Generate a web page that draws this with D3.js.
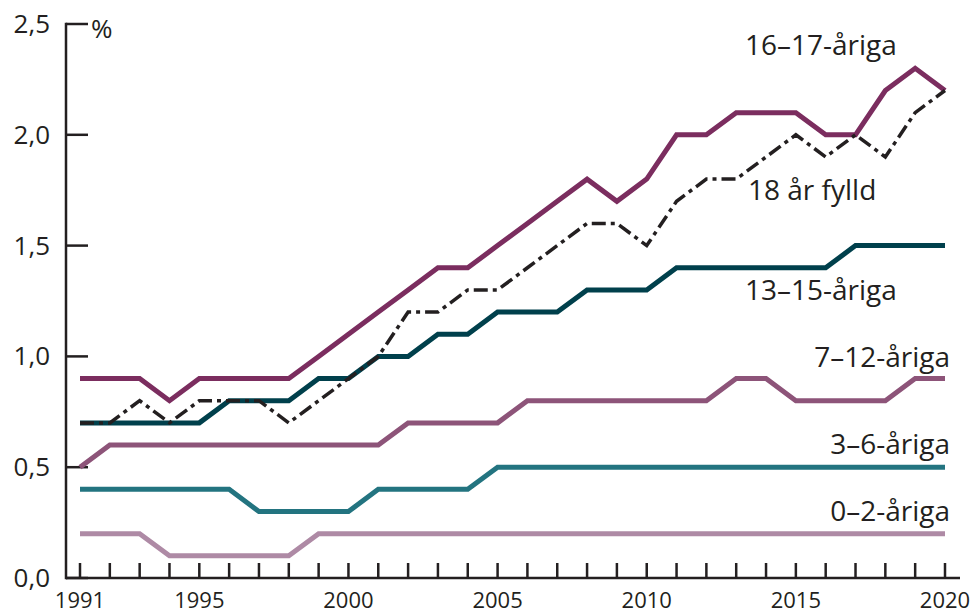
<!DOCTYPE html>
<html>
<head>
<meta charset="utf-8">
<script src="https://cdn.jsdelivr.net/npm/d3@7"></script>
<style>
  body { margin: 0; background: #fff; }
  text { font-family: "Open Sans", "Noto Sans", sans-serif; fill: #231f20; }
</style>
</head>
<body>
<div id="chart"></div>
<script>
// Data
// ================================
var years = d3.range(1991, 2021);
var yearLabels = [1991, 1995, 2000, 2005, 2010, 2015, 2020];
var yTicks = [0, 0.5, 1.0, 1.5, 2.0, 2.5];

var age16to17 = [0.9, 0.9, 0.9, 0.8, 0.9, 0.9, 0.9, 0.9, 1.0, 1.1,
  1.2, 1.3, 1.4, 1.4, 1.5, 1.6, 1.7, 1.8, 1.7, 1.8,
  2.0, 2.0, 2.1, 2.1, 2.1, 2.0, 2.0, 2.2, 2.3, 2.2];
var age18plus = [0.7, 0.7, 0.8, 0.7, 0.8, 0.8, 0.8, 0.7, 0.8, 0.9,
  1.0, 1.2, 1.2, 1.3, 1.3, 1.4, 1.5, 1.6, 1.6, 1.5,
  1.7, 1.8, 1.8, 1.9, 2.0, 1.9, 2.0, 1.9, 2.1, 2.2];
var age13to15 = [0.7, 0.7, 0.7, 0.7, 0.7, 0.8, 0.8, 0.8, 0.9, 0.9,
  1.0, 1.0, 1.1, 1.1, 1.2, 1.2, 1.2, 1.3, 1.3, 1.3,
  1.4, 1.4, 1.4, 1.4, 1.4, 1.4, 1.5, 1.5, 1.5, 1.5];
var age7to12 = [0.5, 0.6, 0.6, 0.6, 0.6, 0.6, 0.6, 0.6, 0.6, 0.6,
  0.6, 0.7, 0.7, 0.7, 0.7, 0.8, 0.8, 0.8, 0.8, 0.8,
  0.8, 0.8, 0.9, 0.9, 0.8, 0.8, 0.8, 0.8, 0.9, 0.9];
var age3to6 = [0.4, 0.4, 0.4, 0.4, 0.4, 0.4, 0.3, 0.3, 0.3, 0.3,
  0.4, 0.4, 0.4, 0.4, 0.5, 0.5, 0.5, 0.5, 0.5, 0.5,
  0.5, 0.5, 0.5, 0.5, 0.5, 0.5, 0.5, 0.5, 0.5, 0.5];
var age0to2 = [0.2, 0.2, 0.2, 0.1, 0.1, 0.1, 0.1, 0.1, 0.2, 0.2,
  0.2, 0.2, 0.2, 0.2, 0.2, 0.2, 0.2, 0.2, 0.2, 0.2,
  0.2, 0.2, 0.2, 0.2, 0.2, 0.2, 0.2, 0.2, 0.2, 0.2];

// series drawn bottom-up so the top lines sit on top
var series = [
  { name: "0–2-åriga", values: age0to2, color: "#ae8aa5", lx: 950, ly: 521, anchor: "end" },
  { name: "3–6-åriga", values: age3to6, color: "#237480", lx: 950, ly: 454, anchor: "end" },
  { name: "7–12-åriga", values: age7to12, color: "#8d5479", lx: 950, ly: 367, anchor: "end" },
  { name: "13–15-åriga", values: age13to15, color: "#00404c", lx: 745, ly: 300, anchor: "start" },
  { name: "16–17-åriga", values: age16to17, color: "#7b2d5f", lx: 745, ly: 55, anchor: "start" },
  { name: "18 år fylld", values: age18plus, color: "#231f20", lx: 748, ly: 200, anchor: "start", dash: true }
];

// Set up chart
// ================================
var svgWidth = 976;
var svgHeight = 613;

var svg = d3.select("#chart")
  .append("svg")
  .attr("width", svgWidth)
  .attr("height", svgHeight);

var x = d3.scaleLinear().domain([1991, 2020]).range([80, 945]);
var y = d3.scaleLinear().domain([0, 2.5]).range([578, 24]);
var axisX = 66;

// y axis line and ticks
svg.append("line")
  .attr("x1", axisX).attr("x2", axisX)
  .attr("y1", y(2.5) - 1.25).attr("y2", y(0) + 1.25)
  .attr("stroke", "#231f20").attr("stroke-width", 2.5);

svg.selectAll("line.ytick")
  .data(yTicks)
  .enter()
  .append("line")
  .classed("ytick", true)
  .attr("x1", axisX).attr("x2", 88)
  .attr("y1", d => y(d)).attr("y2", d => y(d))
  .attr("stroke", "#231f20").attr("stroke-width", 2.5);

svg.selectAll("text.ylab")
  .data(yTicks)
  .enter()
  .append("text")
  .classed("ylab", true)
  .attr("x", 50)
  .attr("y", d => y(d) + 9)
  .attr("text-anchor", "end")
  .style("font-size", "26px")
  .text(d => d3.format(".1f")(d).replace(".", ","));

svg.append("text")
  .attr("x", 91)
  .attr("y", 38)
  .style("font-size", "26px")
  .text("%");

// x axis line and ticks
svg.append("line")
  .attr("x1", axisX).attr("x2", 960)
  .attr("y1", y(0)).attr("y2", y(0))
  .attr("stroke", "#231f20").attr("stroke-width", 2.5);

svg.selectAll("line.xtick")
  .data(years)
  .enter()
  .append("line")
  .classed("xtick", true)
  .attr("x1", d => x(d)).attr("x2", d => x(d))
  .attr("y1", y(0)).attr("y2", y(0) - 15)
  .attr("stroke", "#231f20").attr("stroke-width", 2.5);

svg.selectAll("text.xlab")
  .data(yearLabels)
  .enter()
  .append("text")
  .classed("xlab", true)
  .attr("x", d => x(d))
  .attr("y", 608)
  .attr("text-anchor", "middle")
  .style("font-size", "22px")
  .text(d => d);

// lines
var line = d3.line()
  .x((d, i) => x(years[i]))
  .y(d => y(d));

svg.selectAll("path.series")
  .data(series)
  .enter()
  .append("path")
  .classed("series", true)
  .attr("d", d => line(d.values))
  .attr("fill", "none")
  .attr("stroke", d => d.color)
  .attr("stroke-width", d => d.dash ? 3.5 : 5)
  .attr("stroke-linejoin", "miter")
  .attr("stroke-dasharray", d => d.dash ? "14,5,4,5" : null);

// series labels
svg.selectAll("text.serieslab")
  .data(series)
  .enter()
  .append("text")
  .classed("serieslab", true)
  .attr("x", d => d.lx)
  .attr("y", d => d.ly)
  .attr("text-anchor", d => d.anchor)
  .style("font-size", "28px")
  .text(d => d.name);
</script>
</body>
</html>
